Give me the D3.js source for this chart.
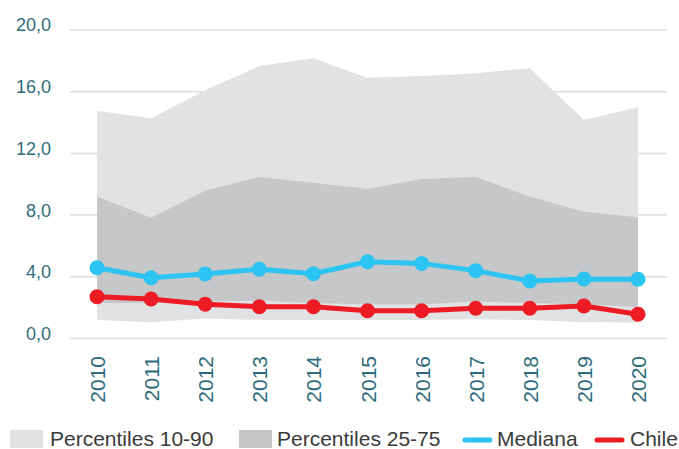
<!DOCTYPE html>
<html>
<head>
<meta charset="utf-8">
<script src="https://cdn.jsdelivr.net/npm/d3@7"></script>
<style>
  html, body { margin: 0; padding: 0; background: #ffffff; }
  svg { display: block; }
  text { font-family: "Liberation Sans", Helvetica, Arial, sans-serif; }
</style>
</head>
<body>
<svg id="chart" width="679" height="449"></svg>
<script>
const years = ["2010","2011","2012","2013","2014","2015","2016","2017","2018","2019","2020"];
const p10 = [1.2, 1.05, 1.3, 1.2, 1.2, 1.2, 1.2, 1.25, 1.2, 1.05, 1.03];
const p25 = [2.3, 2.3, 2.4, 2.45, 2.3, 2.2, 2.2, 2.4, 2.3, 2.2, 2.05];
const p75 = [9.2, 7.83, 9.58, 10.47, 10.1, 9.71, 10.34, 10.47, 9.2, 8.22, 7.86];
const p90 = [14.77, 14.28, 16.1, 17.67, 18.17, 16.91, 17.02, 17.2, 17.52, 14.17, 14.99];
const mediana = [4.59, 3.94, 4.18, 4.49, 4.2, 4.98, 4.87, 4.4, 3.73, 3.86, 3.84];
const chile = [2.71, 2.56, 2.22, 2.06, 2.06, 1.8, 1.8, 1.96, 1.96, 2.11, 1.57];
const yTicks = [0, 4, 8, 12, 16, 20];
const legendLabels = ["Percentiles 10-90", "Percentiles 25-75", "Mediana", "Chile"];

const colLight = "#e1e2e4", colDark = "#c6c7c9", colBlue = "#2bc4f3", colRed = "#ed1c24";
const tickColor = "#2f6c7d";

const svg = d3.select("#chart");
const x = d3.scalePoint().domain(years).range([97, 638]);
const y = d3.scaleLinear().domain([0, 20]).range([338.5, 30]);

// gridlines
const yAxis = d3.axisLeft(y).tickValues(yTicks).tickSize(0)
  .tickFormat(d => d3.format(".1f")(d).replace(".", ","));
const gAxis = svg.append("g").attr("transform", "translate(51,0)").call(yAxis);
gAxis.select(".domain").remove();
gAxis.selectAll("text").attr("x", 0).attr("dy", "0.05em")
  .attr("fill", tickColor).style("font-size", "18px").attr("text-anchor", "end");

svg.append("g").selectAll("line").data(yTicks).join("line")
  .attr("x1", 70).attr("x2", 667)
  .attr("y1", d => y(d)).attr("y2", d => y(d))
  .attr("stroke", "#dddddd").attr("stroke-width", 1.5);

const idx = d3.range(years.length);
const band = (lo, hi) => d3.area()
  .x(i => x(years[i])).y0(i => y(lo[i])).y1(i => y(hi[i]));

svg.append("path").datum(idx).attr("d", band(p10, p90)).attr("fill", colLight);
svg.append("path").datum(idx).attr("d", band(p25, p75)).attr("fill", colDark);

function series(vals, color) {
  const line = d3.line().x(i => x(years[i])).y(i => y(vals[i]));
  svg.append("path").datum(idx).attr("d", line)
    .attr("fill", "none").attr("stroke", color).attr("stroke-width", 5)
    .attr("stroke-linejoin", "round");
  svg.append("g").selectAll("circle").data(idx).join("circle")
    .attr("cx", i => x(years[i])).attr("cy", i => y(vals[i]))
    .attr("r", 7.5).attr("fill", color);
}
series(mediana, colBlue);
series(chile, colRed);

// x labels
const xAxis = d3.axisBottom(x).tickSize(0);
const gx = svg.append("g").attr("transform", "translate(0,356)").call(xAxis);
gx.select(".domain").remove();
gx.selectAll("text")
  .attr("transform", "rotate(-90)")
  .attr("x", 0).attr("y", 0).attr("dy", "0.36em")
  .attr("text-anchor", "end")
  .attr("fill", tickColor).style("font-size", "21px");

// legend
const lg = svg.append("g");
const legendY = 446;
lg.append("rect").attr("x", 10).attr("y", 430).attr("width", 33).attr("height", 18).attr("fill", colLight);
lg.append("text").attr("x", 50).attr("y", legendY).text(legendLabels[0]);
lg.append("rect").attr("x", 239).attr("y", 430).attr("width", 33).attr("height", 18).attr("fill", colDark);
lg.append("text").attr("x", 277).attr("y", legendY).text(legendLabels[1]);
lg.append("line").attr("x1", 465).attr("x2", 490).attr("y1", 440).attr("y2", 440)
  .attr("stroke", colBlue).attr("stroke-width", 5).attr("stroke-linecap", "round");
lg.append("text").attr("x", 497).attr("y", legendY).text(legendLabels[2]);
lg.append("line").attr("x1", 597).attr("x2", 622).attr("y1", 440).attr("y2", 440)
  .attr("stroke", colRed).attr("stroke-width", 5).attr("stroke-linecap", "round");
lg.append("text").attr("x", 630).attr("y", legendY).text(legendLabels[3]);
lg.selectAll("text").attr("fill", "#3a3a3a").style("font-size", "21px");
</script>
</body>
</html>
